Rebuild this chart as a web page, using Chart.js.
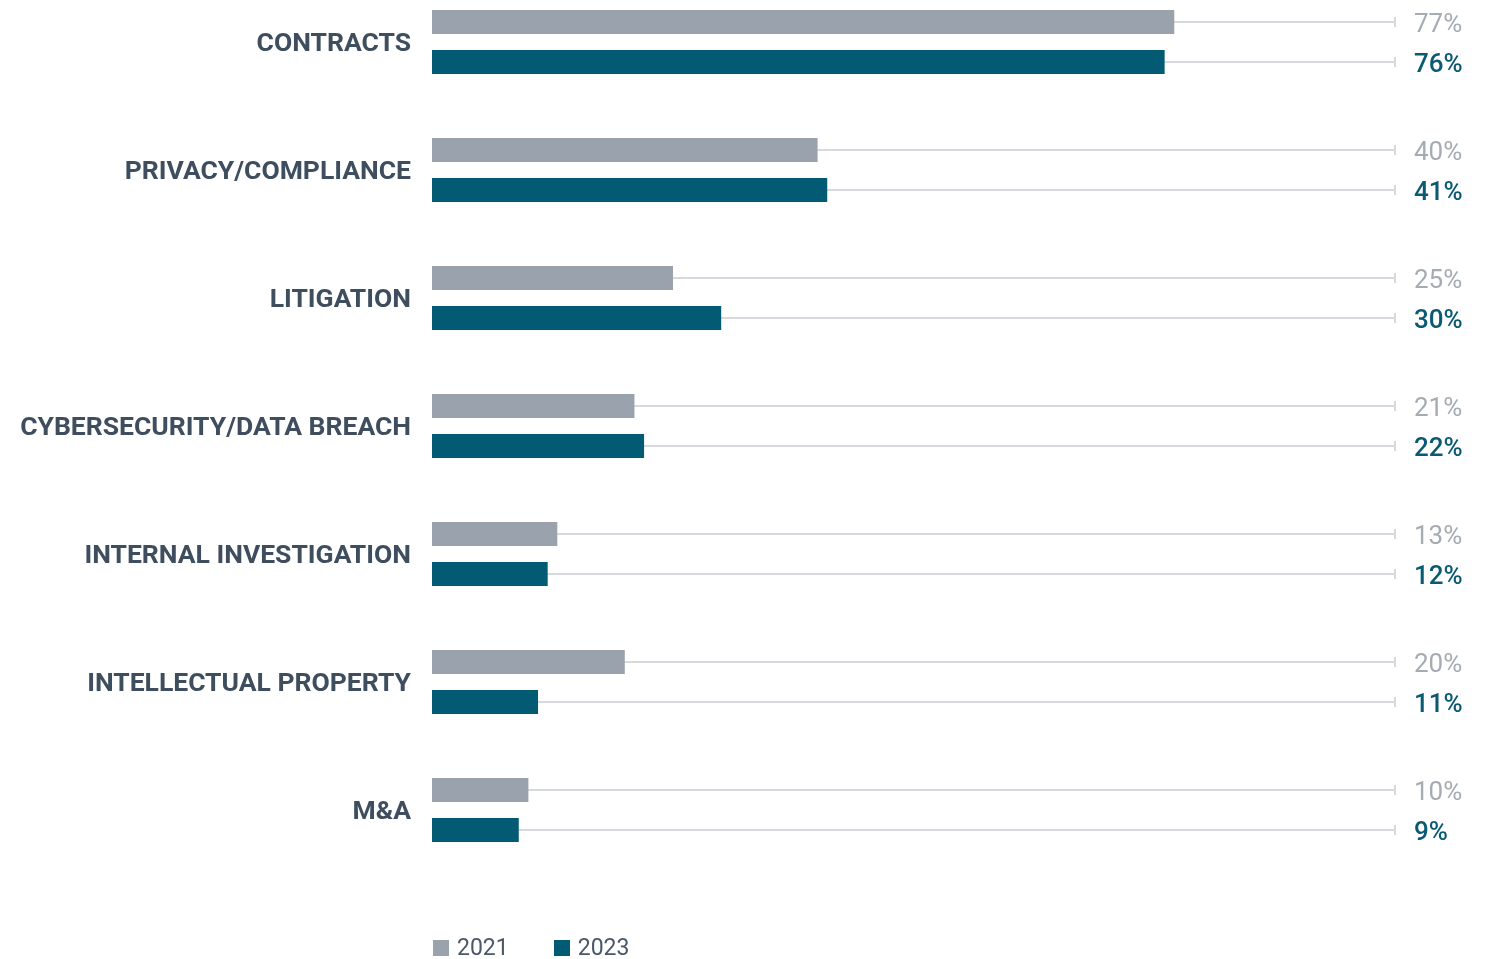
<!DOCTYPE html>
<html>
<head>
<meta charset="utf-8">
<script src="https://cdn.jsdelivr.net/npm/chart.js@4/dist/chart.umd.min.js"></script>
<style>
  html, body { margin: 0; padding: 0; background: #fff; }
  #wrap { position: relative; width: 1493px; height: 959px; }
  #legend {
    position: absolute; left: 433px; top: 934px;
    display: flex; gap: 45px;
    font-family: Roboto, sans-serif; font-size: 23px; color: #4a5867;
  }
  #legend .item { display: flex; align-items: center; }
  #legend .swatch { width: 16px; height: 16px; margin-right: 8px; }
</style>
</head>
<body>
<div id="wrap">
  <canvas id="chart" width="1493" height="959"></canvas>
  <div id="legend"></div>
</div>
<script>
const categories = ['CONTRACTS', 'PRIVACY/COMPLIANCE', 'LITIGATION', 'CYBERSECURITY/DATA BREACH',
  'INTERNAL INVESTIGATION', 'INTELLECTUAL PROPERTY', 'M&A'];
const values2021 = [77, 40, 25, 21, 13, 20, 10];
const values2023 = [76, 41, 30, 22, 12, 11, 9];
const seriesLabels = ['2021', '2023'];
const axisMax = 100;

const GRAY = '#9aa3ad';
const TEAL = '#035a73';
const TRACK = '#d6dadf';

// thin track line behind each bar, running to 100% with an end tick,
// plus the percentage written past the end of the track
const trackPlugin = {
  id: 'tracks',
  beforeDatasetsDraw(chart) {
    const ctx = chart.ctx;
    const x0 = chart.scales.x.getPixelForValue(0);
    const x1 = chart.scales.x.getPixelForValue(axisMax);
    ctx.save();
    ctx.strokeStyle = TRACK;
    ctx.lineWidth = 2;
    chart.data.datasets.forEach((ds, i) => {
      chart.getDatasetMeta(i).data.forEach(bar => {
        ctx.beginPath();
        ctx.moveTo(x0, bar.y);
        ctx.lineTo(x1 - 1, bar.y);
        ctx.moveTo(x1 - 1, bar.y - 5);
        ctx.lineTo(x1 - 1, bar.y + 5);
        ctx.stroke();
      });
    });
    ctx.restore();
  },
  afterDatasetsDraw(chart) {
    const ctx = chart.ctx;
    const xl = chart.scales.x.getPixelForValue(axisMax) + 18;
    ctx.save();
    ctx.textBaseline = 'middle';
    ctx.textAlign = 'left';
    chart.data.datasets.forEach((ds, i) => {
      ctx.fillStyle = ds.labelColor;
      ctx.font = ds.labelFont;
      chart.getDatasetMeta(i).data.forEach((bar, j) => {
        ctx.fillText(ds.data[j] + '%', xl, bar.y + 3);
      });
    });
    ctx.restore();
  }
};

const chart = new Chart(document.getElementById('chart'), {
  type: 'bar',
  data: {
    labels: categories,
    datasets: [
      { label: seriesLabels[0], data: values2021, backgroundColor: GRAY, clip: false,
        labelColor: '#a4abb3', labelFont: '400 26px Roboto' },
      { label: seriesLabels[1], data: values2023, backgroundColor: TEAL, clip: false,
        labelColor: '#0b5a74', labelFont: '500 26px Roboto' }
    ]
  },
  options: {
    indexAxis: 'y',
    responsive: false,
    animation: false,
    categoryPercentage: 0.625,
    barPercentage: 0.6,
    layout: { padding: { top: 42, bottom: 149, left: 0, right: 97 } },
    plugins: { legend: { display: false }, tooltip: { enabled: false } },
    scales: {
      x: { min: 0, max: axisMax, display: false },
      y: {
        offset: false,
        border: { display: false },
        grid: { display: false, drawTicks: false },
        ticks: {
          padding: 21, labelOffset: 2, color: '#3e4e5f',
          font: { family: 'Roboto', size: 26.5, weight: 'bold' }
        },
        afterFit(scale) { scale.width = 432; }
      }
    }
  },
  plugins: [trackPlugin]
});

// legend
const legend = document.getElementById('legend');
chart.data.datasets.forEach(ds => {
  const item = document.createElement('div');
  item.className = 'item';
  const sw = document.createElement('span');
  sw.className = 'swatch';
  sw.style.background = ds.backgroundColor;
  const txt = document.createElement('span');
  txt.textContent = ds.label;
  item.appendChild(sw);
  item.appendChild(txt);
  legend.appendChild(item);
});
</script>
</body>
</html>
